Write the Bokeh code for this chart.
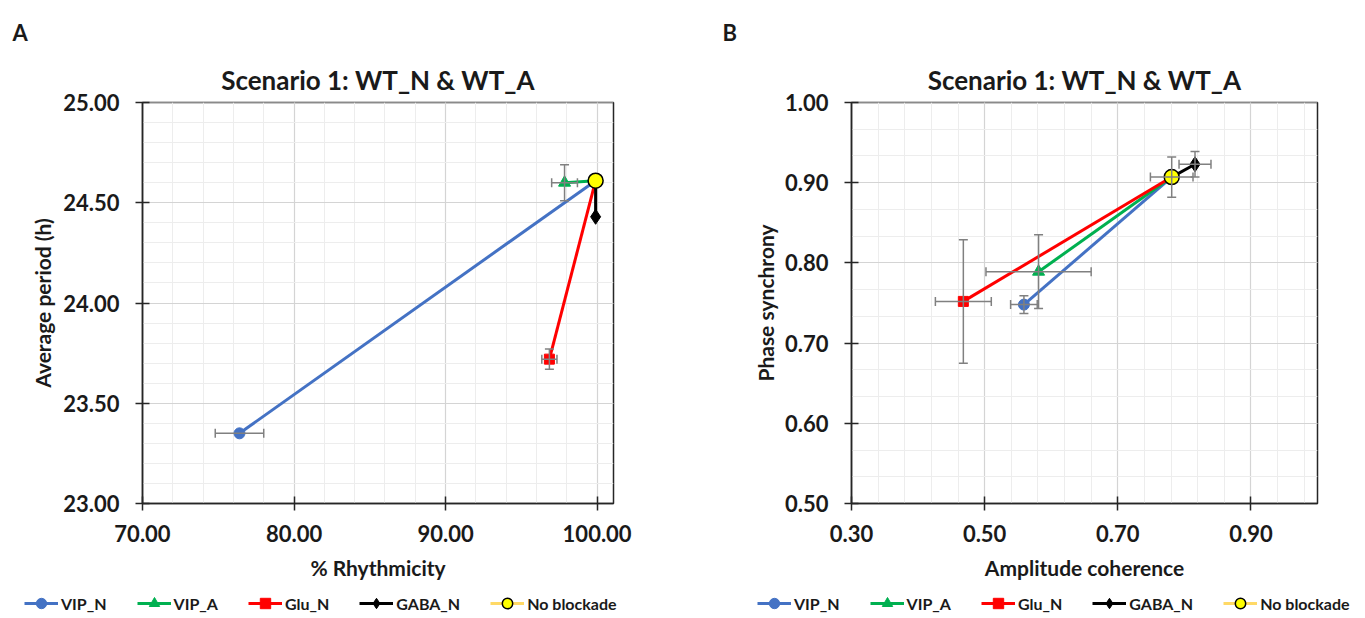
import numpy as np
from bokeh.plotting import figure
from bokeh.models import (ColumnDataSource, Whisker, TeeHead, FixedTicker,
                          NumeralTickFormatter, Legend, LegendItem, Title, Range1d)
from bokeh.layouts import row, column
from bokeh.embed import file_html
from bokeh.resources import INLINE

# ---------------- data ----------------
groups = ["VIP_N", "VIP_A", "Glu_N", "GABA_N"]
colors = ["#4472C4", "#00B050", "#FF0000", "#000000"]
markers = ["circle", "triangle", "square", "diamond"]
marker_sizes = [11, 12, 10, 15]

# Panel A : % Rhythmicity vs average period
rhythmicity = [76.4, 97.85, 96.85, 99.9]
rhythmicity_err = [1.6, 0.85, 0.5, 0.0]
period = [23.35, 24.60, 23.72, 24.43]
period_err = [0.0, 0.09, 0.05, 0.0]
nb_rhythmicity = 99.9
nb_rhythmicity_err = 0.0
nb_period = 24.61
nb_period_err = 0.0

# Panel B : amplitude coherence vs phase synchrony
amp_coh = [0.559, 0.581, 0.468, 0.816]
amp_coh_err = [0.02, 0.079, 0.042, 0.024]
phase_sync = [0.748, 0.789, 0.752, 0.923]
phase_sync_err = [0.011, 0.046, 0.077, 0.016]
nb_amp_coh = 0.781
nb_amp_coh_err = 0.032
nb_phase_sync = 0.907
nb_phase_sync_err = 0.025

xA_ticks = [70, 80, 90, 100]
yA_ticks = [23.0, 23.5, 24.0, 24.5, 25.0]
xB_ticks = [0.3, 0.5, 0.7, 0.9]
yB_ticks = [0.5, 0.6, 0.7, 0.8, 0.9, 1.0]

title_text = "Scenario 1: WT_N & WT_A"
nb_label = "No blockade"
FONT = "Lato"
TXT = "#1a1a1a"
AXC = "#262626"
ERRC = "#808080"
NB_FILL = "#FFFF00"
NB_LINE = "#FFD966"


def make_panel(letter, xs, xerr, ys, yerr, nbx, nbxe, nby, nbye,
               xr, yr, xt, yt, xminor, yminor, xlabel, ylabel,
               bl, br, fw, fh, letter_off, ylab_standoff):
    p = figure(frame_width=fw, frame_height=fh,
               x_range=Range1d(*xr), y_range=Range1d(*yr),
               output_backend="svg", toolbar_location=None,
               min_border_left=bl, min_border_right=br,
               min_border_top=102, min_border_bottom=86,
               background_fill_color="white", border_fill_color="white")
    # panel letter (outermost title)
    p.title = Title(text=letter, align="left", offset=letter_off,
                    text_font=FONT, text_font_style="bold",
                    text_font_size="22px", text_color=TXT, standoff=18)
    # chart title (closest to frame)
    p.add_layout(Title(text=title_text, align="center",
                       text_font=FONT, text_font_style="bold",
                       text_font_size="26px", text_color=TXT, standoff=14), "above")

    p.outline_line_color = AXC
    p.outline_line_width = 1.5

    p.xaxis.ticker = FixedTicker(ticks=xt, minor_ticks=xminor)
    p.yaxis.ticker = FixedTicker(ticks=yt, minor_ticks=yminor)
    p.xaxis.formatter = NumeralTickFormatter(format="0.00")
    p.yaxis.formatter = NumeralTickFormatter(format="0.00")
    for ax in (p.xaxis[0], p.yaxis[0]):
        ax.axis_line_color = AXC
        ax.axis_line_width = 1.5
        ax.major_tick_line_color = AXC
        ax.major_tick_line_width = 1.5
        ax.major_tick_in = 7
        ax.major_tick_out = 7
        ax.minor_tick_line_color = None
        ax.major_label_text_font = FONT
        ax.major_label_text_font_style = "bold"
        ax.major_label_text_font_size = "22px"
        ax.major_label_text_color = TXT
        ax.axis_label_text_font = FONT
        ax.axis_label_text_font_style = "bold"
        ax.axis_label_text_font_size = "21px"
        ax.axis_label_text_color = TXT
    p.xaxis.axis_label = xlabel
    p.yaxis.axis_label = ylabel
    p.xaxis.major_label_standoff = 14
    p.yaxis.major_label_standoff = 16
    p.xaxis.axis_label_standoff = 10
    p.yaxis.axis_label_standoff = ylab_standoff

    for g in (p.xgrid[0], p.ygrid[0]):
        g.grid_line_color = "#D4D4D4"
        g.grid_line_width = 1.2
        g.minor_grid_line_color = "#EDEDED"
        g.minor_grid_line_width = 1

    for i in range(len(groups)):
        p.line([xs[i], nbx], [ys[i], nby], line_color=colors[i], line_width=3)

    # error bars
    src_xe = ColumnDataSource(dict(
        y=[v for v, e in zip(ys + [nby], xerr + [nbxe]) if e > 0],
        lo=[x - e for x, e in zip(xs + [nbx], xerr + [nbxe]) if e > 0],
        hi=[x + e for x, e in zip(xs + [nbx], xerr + [nbxe]) if e > 0]))
    src_ye = ColumnDataSource(dict(
        x=[v for v, e in zip(xs + [nbx], yerr + [nbye]) if e > 0],
        lo=[y - e for y, e in zip(ys + [nby], yerr + [nbye]) if e > 0],
        hi=[y + e for y, e in zip(ys + [nby], yerr + [nbye]) if e > 0]))
    for src, base, dim in ((src_xe, "y", "width"), (src_ye, "x", "height")):
        w = Whisker(source=src, base=base, lower="lo", upper="hi", dimension=dim,
                    line_color=ERRC, line_width=1.5, level="glyph",
                    upper_head=TeeHead(size=9, line_color=ERRC, line_width=1.5),
                    lower_head=TeeHead(size=9, line_color=ERRC, line_width=1.5))
        p.add_layout(w)

    for i in range(len(groups)):
        p.scatter([xs[i]], [ys[i]], marker=markers[i], size=marker_sizes[i],
                  fill_color=colors[i], line_color=colors[i])

    p.scatter([nbx], [nby], marker="circle", size=15,
              fill_color=NB_FILL, line_color="#000000", line_width=1.5)
    return p


def make_legend_fig(width, height, x0, spacing, xs, ys, nbx, nby):
    # legend-only strip; its renderers hold the series data but the view
    # range is set away from it so only the legend keys are visible
    lf = figure(width=width, height=height, output_backend="svg",
                toolbar_location=None, min_border=0,
                x_range=Range1d(-2, -1), y_range=Range1d(-2, -1),
                background_fill_color="white", border_fill_color="white")
    lf.axis.visible = False
    lf.grid.visible = False
    lf.outline_line_color = None
    items = []
    for i, gname in enumerate(groups):
        lr = lf.line([xs[i], nbx], [ys[i], nby], line_color=colors[i], line_width=3)
        mr = lf.scatter([xs[i]], [ys[i]], marker=markers[i], fill_color=colors[i],
                        line_color=colors[i])
        items.append(LegendItem(label=gname, renderers=[lr, mr]))
    lr = lf.line([nbx], [nby], line_color=NB_LINE, line_width=3)
    mr = lf.scatter([nbx], [nby], marker="circle", fill_color=NB_FILL,
                    line_color="#000000", line_width=1.5)
    items.append(LegendItem(label=nb_label, renderers=[lr, mr]))
    leg = Legend(items=items, orientation="horizontal", location=(x0, 2),
                 glyph_width=34, glyph_height=26, label_standoff=3, spacing=spacing,
                 padding=0, margin=0, border_line_color=None,
                 background_fill_alpha=0,
                 label_text_font=FONT, label_text_font_style="bold",
                 label_text_font_size="16px", label_text_color=TXT)
    lf.add_layout(leg)
    return lf


pA = make_panel("A", rhythmicity, rhythmicity_err, period, period_err,
                nb_rhythmicity, nb_rhythmicity_err, nb_period, nb_period_err,
                (70, 101.08), (23, 25), xA_ticks, yA_ticks,
                list(np.arange(70, 101.1, 2)), list(np.arange(23, 25.01, 0.1)),
                "% Rhythmicity", "Average period (h)",
                142, 67, 471, 401, -130, 5)

pB = make_panel("B", amp_coh, amp_coh_err, phase_sync, phase_sync_err,
                nb_amp_coh, nb_amp_coh_err, nb_phase_sync, nb_phase_sync_err,
                (0.3, 1.0), (0.5, 1.0), xB_ticks, yB_ticks,
                list(np.arange(0.3, 1.001, 0.04)), list(np.arange(0.5, 1.001, 1 / 30)),
                "Amplitude coherence", "Phase synchrony",
                171, 40, 466, 401, -129, 4)

lA = make_legend_fig(680, 29, 24, 30, rhythmicity, period, nb_rhythmicity, nb_period)
lB = make_legend_fig(677, 29, 77, 30, amp_coh, phase_sync, nb_amp_coh, nb_phase_sync)

layout = column(row(pA, pB), row(lA, lB))
open("out.html", "w").write(file_html(layout, INLINE))
